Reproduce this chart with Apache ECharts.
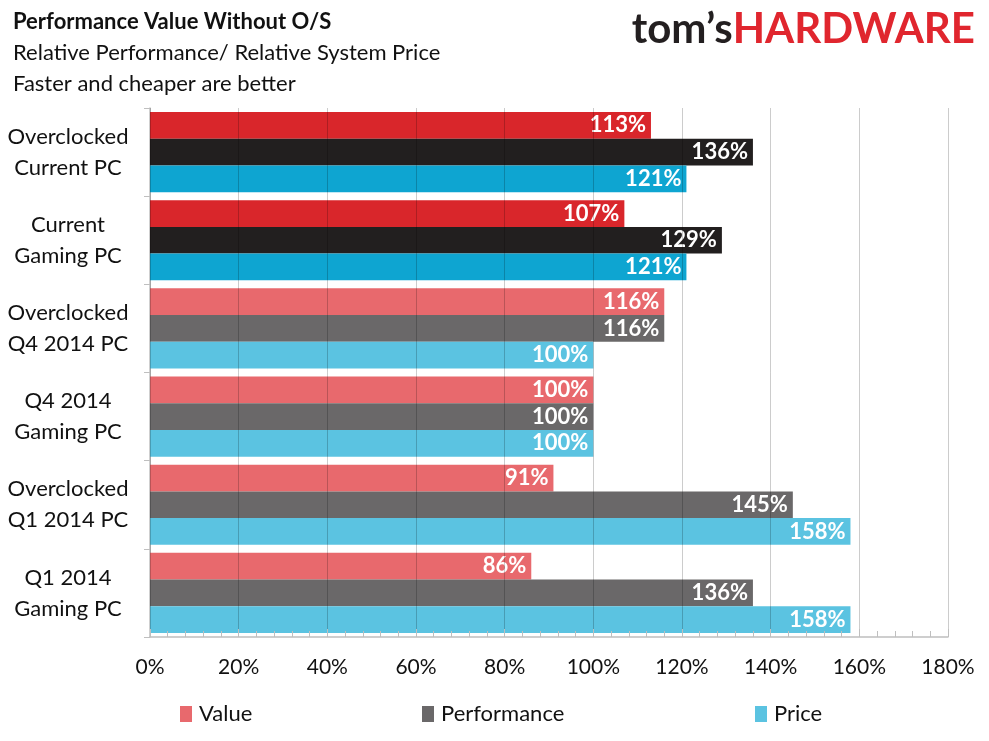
<!DOCTYPE html>
<html>
<head>
<meta charset="utf-8">
<script src="https://cdn.jsdelivr.net/npm/echarts@6/dist/echarts.min.js"></script>
<style>
  html, body { margin: 0; padding: 0; background: #fff; }
  #main { width: 989px; height: 741px; }
</style>
</head>
<body>
<div id="main"></div>
<script>
let chartDom = document.getElementById('main');
let myChart = echarts.init(chartDom);

// data, top to bottom
let categories = [
  'Overclocked\nCurrent PC',
  'Current\nGaming PC',
  'Overclocked\nQ4 2014 PC',
  'Q4 2014\nGaming PC',
  'Overclocked\nQ1 2014 PC',
  'Q1 2014\nGaming PC'
];
let valueData = [113, 107, 116, 100, 91, 86];
let performanceData = [136, 129, 116, 100, 145, 136];
let priceData = [121, 121, 100, 100, 158, 158];
let xTicks = [0, 20, 40, 60, 80, 100, 120, 140, 160, 180];

// first two categories are highlighted with darker colours
let lightColors = ['#e8696d', '#6a6869', '#5bc3e1'];
let darkColors = ['#d9262b', '#221f1f', '#0ea5d1'];
let font = 'Lato, "Open Sans", sans-serif';

function toItems(arr, idx) {
  return arr.map((v, i) => ({
    value: v,
    itemStyle: { color: i < 2 ? darkColors[idx] : lightColors[idx] }
  }));
}

let names = ['Value', 'Performance', 'Price'];
let allData = [valueData, performanceData, priceData];

let series = names.map((n, idx) => ({
  name: n,
  type: 'bar',
  barGap: 0,
  barCategoryGap: '9%',
  color: lightColors[idx],
  label: {
    show: true,
    position: 'insideRight',
    distance: 5,
    color: '#fff',
    fontFamily: font,
    fontSize: 22,
    fontWeight: 'bold',
    formatter: p => p.value + '%'
  },
  data: toItems(allData[idx], idx)
}));

option = {
  backgroundColor: '#fff',
  animation: false,
  textStyle: { fontFamily: font },
  title: [
    {
      text: 'Performance Value Without O/S',
      left: 8, top: 6,
      textStyle: { fontFamily: font, fontSize: 22, fontWeight: 'bold', color: '#111' }
    },
    {
      text: 'Relative Performance/ Relative System Price',
      left: 8, top: 37,
      textStyle: { fontFamily: font, fontSize: 22, fontWeight: 'normal', color: '#111' }
    },
    {
      text: 'Faster and cheaper are better',
      left: 8, top: 68,
      textStyle: { fontFamily: font, fontSize: 22, fontWeight: 'normal', color: '#111' }
    }
  ],
  graphic: [
    {
      type: 'text',
      right: 14, top: 8,
      style: {
        text: '{a|tom’s}{b|HARDWARE}',
        rich: {
          a: { fontFamily: font, fontSize: 42, fontWeight: 'bold', fill: '#231f20' },
          b: { fontFamily: font, fontSize: 42, fontWeight: 'bold', fill: '#e0262e' }
        }
      }
    }
  ],
  legend: [
    { data: ['Value'], left: 175, top: 698 },
    { data: ['Performance'], left: 417, top: 698 },
    { data: ['Price'], left: 750, top: 698 }
  ].map(l => Object.assign(l, {
    itemWidth: 12, itemHeight: 16,
    itemGap: 6,
    icon: 'rect',
    textStyle: { fontFamily: font, fontSize: 22, color: '#111', padding: [0, 0, 0, 2] }
  })),
  grid: { left: 150, right: 41, top: 108, bottom: 104, containLabel: false },
  xAxis: {
    type: 'value',
    min: 0, max: 180, interval: 20,
    z: 3,
    axisLine: { show: true, lineStyle: { color: '#bfbfbf', width: 1.5 } },
    axisTick: { show: true, inside: true, length: 8, lineStyle: { color: '#bfbfbf' } },
    minorTick: { show: true, splitNumber: 5, length: 6, lineStyle: { color: '#bfbfbf' } },
    splitLine: { show: true, lineStyle: { color: 'rgba(0,0,0,0.2)' } },
    axisLabel: {
      margin: 20, fontFamily: font, fontSize: 21, color: '#111',
      formatter: v => xTicks.indexOf(v) >= 0 ? v + '%' : ''
    }
  },
  yAxis: {
    type: 'category',
    inverse: true,
    data: categories,
    axisLine: { show: true, lineStyle: { color: '#bfbfbf', width: 1.5 } },
    axisTick: { show: true, length: 6, lineStyle: { color: '#bfbfbf' } },
    axisLabel: {
      margin: 82, fontFamily: font, fontSize: 22, color: '#111',
      align: 'center', lineHeight: 31
    }
  },
  series: series
};

option && myChart.setOption(option);
</script>
</body>
</html>
